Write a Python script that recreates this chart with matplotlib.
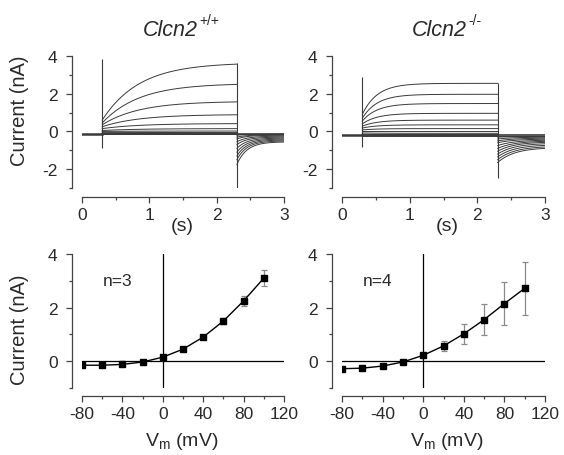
import numpy as np
import matplotlib
matplotlib.use("Agg")
import matplotlib.pyplot as plt

plt.rcParams['font.family'] = ['Liberation Sans', 'DejaVu Sans']
plt.rcParams['mathtext.fontset'] = 'custom'
plt.rcParams['mathtext.rm'] = 'Liberation Sans'
plt.rcParams['mathtext.it'] = 'Liberation Sans:italic'
plt.rcParams['axes.unicode_minus'] = False

# ---- current traces (nA) ----
wt_hold = -0.15
wt_step_start = [0.6, 0.45, 0.35, 0.25, 0.15, 0.05, 0.0, -0.05, -0.1, -0.13, -0.15]
wt_step_end = [3.65, 2.55, 1.6, 0.9, 0.42, 0.15, 0.02, -0.06, -0.1, -0.13, -0.15]
wt_tail_start = [-1.75, -1.5, -1.3, -1.1, -0.9, -0.7, -0.55, -0.4, -0.3, -0.2, -0.15]
wt_tail_end = [-0.55, -0.5, -0.45, -0.4, -0.35, -0.3, -0.25, -0.2, -0.18, -0.15, -0.15]
wt_tau = (0.55, 0.15)
wt_spikes = ((-0.9, 3.85), (-3.1, 3.65))

ko_hold = -0.2
ko_step_start = [0.9, 0.7, 0.55, 0.4, 0.28, 0.18, 0.08, 0.0, -0.08, -0.15, -0.2, -0.25]
ko_step_end = [2.55, 1.97, 1.48, 0.96, 0.6, 0.35, 0.15, 0.0, -0.1, -0.17, -0.22, -0.25]
ko_tail_start = [-1.65, -1.5, -1.35, -1.2, -1.05, -0.9, -0.75, -0.6, -0.5, -0.4, -0.3, -0.25]
ko_tail_end = [-0.85, -0.78, -0.7, -0.62, -0.55, -0.5, -0.45, -0.4, -0.35, -0.3, -0.27, -0.25]
ko_tau = (0.22, 0.25)
ko_spikes = ((-0.85, 2.9), (-2.45, 2.55))

# ---- I-V data ----
vm = [-80, -60, -40, -20, 0, 20, 40, 60, 80, 100]
wt_iv = [-0.15, -0.15, -0.12, -0.03, 0.15, 0.45, 0.9, 1.5, 2.25, 3.1]
wt_err = [0.03, 0.03, 0.03, 0.03, 0.04, 0.05, 0.07, 0.1, 0.2, 0.29]
ko_iv = [-0.28, -0.26, -0.18, -0.03, 0.22, 0.57, 1.02, 1.55, 2.15, 2.72]
ko_err = [0.03, 0.03, 0.04, 0.04, 0.05, 0.2, 0.38, 0.57, 0.8, 1.0]

t_on, t_off, t_end = 0.3, 2.3, 3.0
trace_col = '#3a3a3a'
txt_col = '#2a2a2a'
fs_tick = 12.5
fs_lab = 14


def style_axes(ax, left_pt, bottom_pt):
    for s in ('top', 'right'):
        ax.spines[s].set_visible(False)
    ax.spines['left'].set_position(('outward', left_pt))
    ax.spines['bottom'].set_position(('outward', bottom_pt))
    for s in ('left', 'bottom'):
        ax.spines[s].set_linewidth(0.9)
        ax.spines[s].set_color('#444444')
    ax.tick_params(which='major', length=4.3, width=0.9, labelsize=fs_tick,
                   colors='#444444', labelcolor=txt_col)
    ax.tick_params(axis='y', which='major', pad=6)
    ax.tick_params(axis='x', which='major', pad=3)
    ax.tick_params(which='minor', length=2.5, width=0.9, colors='#444444')


def draw_traces(ax, hold, s0, s1, a0, a1, tau, spikes):
    t_step = np.linspace(t_on, t_off, 300)
    t_tail = np.linspace(t_off, t_end, 150)
    ax.plot([0, t_on], [hold, hold], color=trace_col, lw=1.8)
    for i in range(len(s0)):
        step = s1[i] + (s0[i] - s1[i]) * np.exp(-(t_step - t_on) / tau[0])
        tail = a1[i] + (a0[i] - a1[i]) * np.exp(-(t_tail - t_off) / tau[1])
        ax.plot(t_step, step, color=trace_col, lw=0.7)
        ax.plot(t_tail, tail, color=trace_col, lw=0.7)
    ax.plot([t_on, t_off], [hold, hold], color=trace_col, lw=1.2)
    ax.plot([t_off, t_end], [hold, hold], color=trace_col, lw=1.2)
    ax.vlines([t_on], spikes[0][0], spikes[0][1], color=trace_col, lw=0.8)
    ax.vlines([t_off], spikes[1][0], spikes[1][1], color=trace_col, lw=0.8)
    ax.vlines([t_end], hold - 0.25, hold + 0.25, color=trace_col, lw=0.8)
    ax.set_xlim(0, 3)
    ax.set_ylim(-3, 4)
    ax.set_xticks([0, 1, 2, 3])
    ax.set_xticks([0.5, 1.5, 2.5], minor=True)
    ax.set_yticks([-2, 0, 2, 4])
    ax.set_yticks([-3, -1, 1, 3], minor=True)
    style_axes(ax, 7.2, 6.5)


def draw_iv(ax, y, err, label):
    ax.axhline(0, color='black', lw=0.9)
    ax.axvline(0, color='black', lw=0.9)
    ax.errorbar(vm, y, yerr=err, fmt='none', ecolor='#8a8a8a', elinewidth=0.9,
                capsize=2.5, capthick=0.9, zorder=2)
    ax.plot(vm, y, color='black', lw=1.0, marker='s', ms=5, zorder=3)
    ax.text(-45, 3.0, label, fontsize=fs_tick, ha='center', va='center', color=txt_col)
    ax.set_xlim(-80, 120)
    ax.set_ylim(-1, 4)
    ax.set_xticks([-80, -40, 0, 40, 80, 120])
    ax.set_xticks([-60, -20, 20, 60, 100], minor=True)
    ax.set_yticks([0, 2, 4])
    ax.set_yticks([-1, 1, 3], minor=True)
    style_axes(ax, 7.2, 5.8)


fig = plt.figure(figsize=(5.64, 4.56), dpi=100)
W, H = 564.0, 456.0


def add_ax(x0, x1, ytop, ybot):
    return fig.add_axes([x0 / W, 1 - ybot / H, (x1 - x0) / W, (ybot - ytop) / H])


ax_tl = add_ax(82, 284, 57, 189)
ax_tr = add_ax(342, 545, 57, 189)
ax_bl = add_ax(82, 284, 255, 389)
ax_br = add_ax(342, 545, 255, 389)

draw_traces(ax_tl, wt_hold, wt_step_start, wt_step_end, wt_tail_start, wt_tail_end, wt_tau, wt_spikes)
draw_traces(ax_tr, ko_hold, ko_step_start, ko_step_end, ko_tail_start, ko_tail_end, ko_tau, ko_spikes)
draw_iv(ax_bl, wt_iv, wt_err, 'n=3')
draw_iv(ax_br, ko_iv, ko_err, 'n=4')


# titles and labels in figure pixels
def ftext(x, y, s, **kw):
    kw.setdefault('ha', 'center')
    kw.setdefault('va', 'center')
    return fig.text(x / W, 1 - y / H, s, color=txt_col, **kw)


def title(x, y, geno):
    t = ftext(x, y, 'Clcn2', fontsize=15.5, style='italic')
    # genotype as a small superscript just right of the gene name
    ax_tl.annotate(geno, xy=(1.0, 0.95), xycoords=t, xytext=(1, 0),
                   textcoords='offset points', fontsize=10, color=txt_col,
                   ha='left', va='center', annotation_clip=False)


title(170, 30, '+/+')
title(439, 30, '-/-')
ftext(182, 227, '(s)', fontsize=fs_lab)
ftext(447, 227, '(s)', fontsize=fs_lab)
ftext(182, 442, r'V$_\mathregular{m}$ (mV)', fontsize=fs_lab)
ftext(447, 442, r'V$_\mathregular{m}$ (mV)', fontsize=fs_lab)
ftext(20, 111, 'Current (nA)', fontsize=fs_lab + 0.5, rotation=90)
ftext(20, 330, 'Current (nA)', fontsize=fs_lab + 0.5, rotation=90)

fig.savefig('out.png', dpi=100)
